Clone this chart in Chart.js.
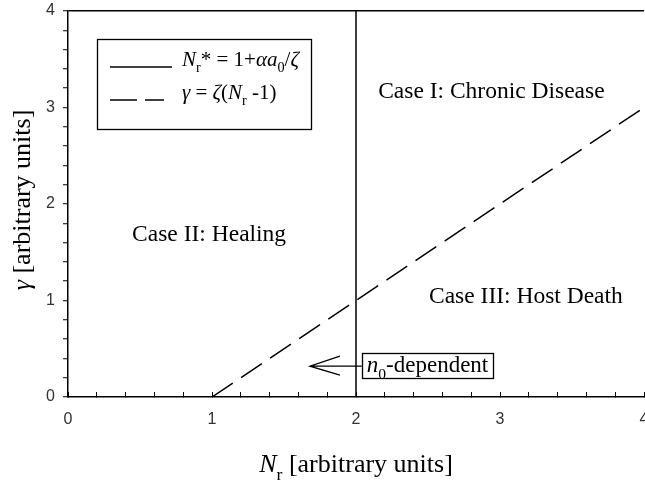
<!DOCTYPE html>
<html>
<head>
<meta charset="utf-8">
<script src="https://cdn.jsdelivr.net/npm/chart.js@4.4.1/dist/chart.umd.min.js"></script>
<style>
  html, body { margin: 0; padding: 0; background: #fff; overflow: hidden; width: 645px; height: 482px; }
  canvas { display: block; }
</style>
</head>
<body>
<canvas id="c" width="700" height="482"></canvas>
<script>
// Outcome phase diagram: gamma versus N_r, split into three cases.
const xTickLabels = ['0', '1', '2', '3', '4'];
const yTickLabels = ['0', '1', '2', '3', '4'];
const minorPerUnit = 5;

// Threshold N_r* = 1 + alpha*a0/zeta (vertical line)
const thresholdX = [2, 2];
const thresholdY = [0, 4];

// gamma = zeta (N_r - 1)
const gammaX = [1, 4];
const gammaY = [0, 3];

// Region names and where they sit (data units, text centre / baseline)
const regionNames = ['Case I: Chronic Disease', 'Case II: Healing', 'Case III: Host Death'];
const regionX = [2.94, 0.98, 3.18];
const regionY = [3.10, 1.62, 0.97];

// Arrow pointing at the n0-dependent part of the boundary
const arrowFrom = [2.04, 0.32];
const arrowTo = [1.68, 0.32];

const SERIF = '"Liberation Serif", "Times New Roman", serif';
const SANS = '"Liberation Sans", Arial, sans-serif';

function toPoints(xs, ys) { return xs.map((x, i) => ({ x: x, y: ys[i] })); }

function tickValues(labels) {
  const out = [];
  const n = (labels.length - 1) * minorPerUnit;
  for (let i = 0; i <= n; i++) out.push({ value: i / minorPerUnit });
  return out;
}

function isWhole(v) { return Math.abs(v - Math.round(v)) < 1e-9; }

// Draws a run of text pieces (italic / subscript) starting at x, baseline y.
function drawRich(ctx, parts, x, y, size, measureOnly) {
  let cx = x;
  for (const p of parts) {
    const s = p.sub ? size * 0.68 : size;
    ctx.font = (p.it ? 'italic ' : '') + s + 'px ' + SERIF;
    const dy = p.sub ? size * 0.3 : 0;
    if (!measureOnly) ctx.fillText(p.t, cx, y + dy);
    cx += ctx.measureText(p.t).width;
  }
  return cx - x;
}

const legendRows = [
  { dash: [], len: 62, parts: [{ t: 'N', it: true }, { t: 'r', sub: true }, { t: '*' }, { t: ' = 1+' },
                      { t: '\u03b1a', it: true }, { t: '0', sub: true }, { t: '/' }, { t: '\u03b6', it: true }] },
  { dash: [27, 8], len: 54, parts: [{ t: '\u03b3', it: true }, { t: ' = ' }, { t: '\u03b6', it: true }, { t: '(' },
                           { t: 'N', it: true }, { t: 'r', sub: true }, { t: ' -1)' }] }
];

const annotations = {
  id: 'annotations',
  afterDatasetsDraw(chart) {
    const ctx = chart.ctx;
    const xs = chart.scales.x, ys = chart.scales.y;
    const ca = chart.chartArea;
    ctx.save();
    ctx.fillStyle = '#000';
    ctx.strokeStyle = '#000';
    ctx.textBaseline = 'alphabetic';

    // region names
    ctx.textAlign = 'center';
    ctx.font = '23.5px ' + SERIF;
    regionNames.forEach((name, i) => {
      ctx.fillText(name, xs.getPixelForValue(regionX[i]), ys.getPixelForValue(regionY[i]));
    });
    ctx.textAlign = 'left';

    // n0-dependent note with arrow
    const ax0 = xs.getPixelForValue(arrowFrom[0]);
    const ay = ys.getPixelForValue(arrowFrom[1]);
    const ax1 = xs.getPixelForValue(arrowTo[0]);
    const noteParts = [{ t: 'n', it: true }, { t: '0', sub: true }, { t: '-dependent' }];
    const noteW = drawRich(ctx, noteParts, 0, 0, 23, true);
    ctx.lineWidth = 1.3;
    ctx.strokeRect(Math.round(ax0) + 0.5, Math.round(ay - 13) + 0.5, Math.round(noteW + 10), 25);
    drawRich(ctx, noteParts, ax0 + 5, ay + 6, 23);
    ctx.beginPath();
    ctx.moveTo(ax0, ay); ctx.lineTo(ax1, ay);
    ctx.moveTo(ax1 + 30, ay - 10); ctx.lineTo(ax1, ay); ctx.lineTo(ax1 + 30, ay + 9);
    ctx.stroke();

    // legend box
    const lx = ca.left + 29, ly = ca.top + 28;
    const legendFont = 21;
    let maxW = 0;
    legendRows.forEach(r => { maxW = Math.max(maxW, drawRich(ctx, r.parts, 0, 0, legendFont, true)); });
    ctx.lineWidth = 1.3;
    ctx.strokeRect(lx + 0.5, ly + 0.5, Math.round(85 + maxW + 12), 90);
    legendRows.forEach((r, i) => {
      const yy = ly + 28 + i * 33;
      ctx.setLineDash(r.dash);
      ctx.lineWidth = 1.5;
      ctx.beginPath(); ctx.moveTo(lx + 13, yy); ctx.lineTo(lx + 13 + r.len, yy); ctx.stroke();
      ctx.setLineDash([]);
      drawRich(ctx, r.parts, lx + 85, yy - 1, legendFont);
    });

    // axis titles
    const xTitle = [{ t: 'N', it: true }, { t: 'r', sub: true }, { t: ' [arbitrary units]' }];
    const xw = drawRich(ctx, xTitle, 0, 0, 26, true);
    drawRich(ctx, xTitle, (ca.left + ca.right) / 2 - xw / 2, ca.bottom + 75, 26);

    const yTitle = [{ t: '\u03b3', it: true }, { t: ' [arbitrary units]' }];
    const yw = drawRich(ctx, yTitle, 0, 0, 26, true);
    ctx.translate(30, (ca.top + ca.bottom) / 2 - 4);
    ctx.rotate(-Math.PI / 2);
    drawRich(ctx, yTitle, -yw / 2, 0, 26);
    ctx.restore();
  }
};

new Chart(document.getElementById('c'), {
  type: 'scatter',
  data: {
    datasets: [
      {
        data: toPoints(thresholdX, thresholdY),
        showLine: true, borderColor: '#000', borderWidth: 1.5, pointRadius: 0
      },
      {
        data: toPoints(gammaX, gammaY),
        showLine: true, borderColor: '#000', borderWidth: 1.5, pointRadius: 0,
        borderDash: [25, 10]
      }
    ]
  },
  options: {
    responsive: false,
    animation: false,
    devicePixelRatio: 1,
    layout: { padding: { top: 11, right: 56, left: 0, bottom: 0 } },
    plugins: { legend: { display: false }, tooltip: { enabled: false } },
    scales: {
      x: {
        type: 'linear', min: 0, max: 4,
        afterBuildTicks: s => { s.ticks = tickValues(xTickLabels); },
        afterFit: s => { s.height = 85; s.paddingLeft = 0; s.paddingRight = 0; },
        ticks: {
          autoSkip: false, maxRotation: 0, padding: 18,
          color: '#333', font: { family: SANS, size: 16 },
          callback: v => isWhole(v) ? xTickLabels[Math.round(v)] : ''
        },
        grid: { drawOnChartArea: false, drawTicks: true, tickLength: -5, tickColor: '#000', tickWidth: 1 },
        border: { color: '#000', width: 1.5 }
      },
      y: {
        type: 'linear', min: 0, max: 4,
        afterBuildTicks: s => { s.ticks = tickValues(yTickLabels); },
        afterFit: s => { s.width = 68; s.paddingTop = 0; s.paddingBottom = 0; },
        ticks: {
          autoSkip: false, padding: 8,
          color: '#333', font: { family: SANS, size: 16 },
          callback: v => isWhole(v) ? yTickLabels[Math.round(v)] : ''
        },
        grid: {
          drawOnChartArea: true, drawTicks: true, tickLength: 5, tickColor: '#000', tickWidth: 1,
          lineWidth: 1.5,
          color: c => (c.tick && Math.abs(c.tick.value - 4) < 1e-9) ? '#000' : 'rgba(0,0,0,0)'
        },
        border: { color: '#000', width: 1.5 }
      }
    }
  },
  plugins: [annotations]
});
</script>
</body>
</html>
